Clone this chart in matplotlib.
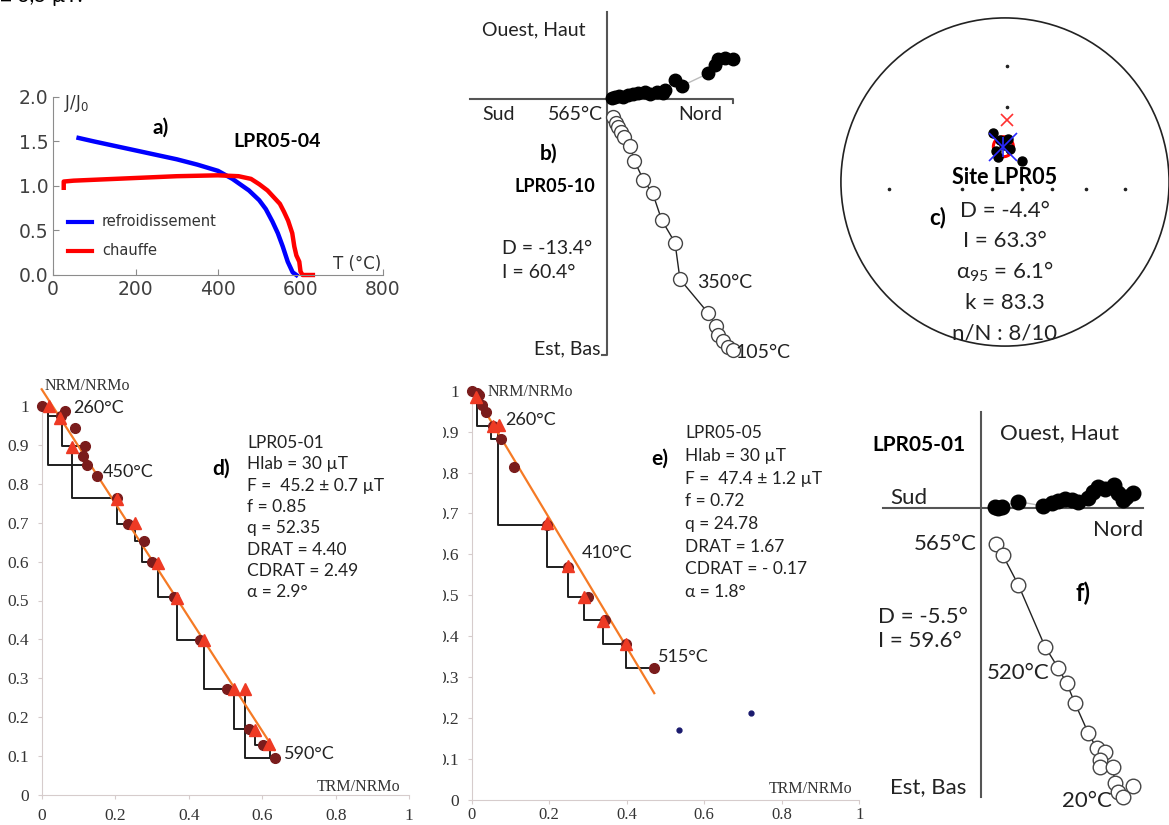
import matplotlib
matplotlib.use("Agg")
import matplotlib.pyplot as plt
from matplotlib.patches import Circle, Rectangle

plt.rcParams['font.family'] = ['Lato', 'DejaVu Sans']
plt.rcParams['mathtext.fontset'] = 'custom'
plt.rcParams['mathtext.rm'] = 'Lato'
plt.rcParams['mathtext.default'] = 'regular'

W, H = 1169, 825

# ---- a) thermomagnetic curve LPR05-04 (T in degC, J/J0)
cool_T = [62, 100, 150, 200, 250, 300, 350, 400, 435, 475, 500, 516, 532, 545, 557, 569, 581, 590]
cool_J = [1.54, 1.50, 1.45, 1.40, 1.35, 1.30, 1.24, 1.17, 1.08, 0.95, 0.84, 0.74, 0.60, 0.47, 0.32, 0.15, 0.03, 0.0]
heat_T = [26, 26, 50, 100, 200, 300, 400, 450, 480, 500, 520, 535, 550, 560, 570, 580, 585, 590, 597, 600, 605, 630]
heat_J = [0.98, 1.05, 1.06, 1.07, 1.09, 1.11, 1.12, 1.11, 1.08, 1.02, 0.95, 0.875, 0.80, 0.71, 0.61, 0.47, 0.32, 0.22, 0.15, 0.04, 0.0, 0.0]

# ---- b) Zijderveld LPR05-10 (units: px of the original, origin at axes cross)
b_hor_x = [5, 8.3, 12.7, 16.7, 21.7, 26.7, 31.7, 38.3, 43.3, 50, 56, 58.3, 68.3, 75, 101.7, 108.3, 111.7, 118.3, 126]
b_hor_y = [0.7, 2.3, 3.3, 1.7, 4, 4.7, 5.7, 6.7, 5, 7.3, 6.3, 9, 19, 13, 25.7, 34, 39.7, 40.7, 39.7]
b_ver_x = [6.7, 9.3, 11.3, 14, 17.3, 23.3, 27.7, 36.7, 46, 55, 68.3, 73.3, 101.7, 109.3, 111.7, 116.7, 121.7, 126.7]
b_ver_y = [-17.7, -23.7, -28.3, -32.7, -37.7, -46.7, -61.7, -81, -94.3, -121, -143.7, -180.3, -214.3, -227, -236, -241.7, -247.7, -251]

# ---- c) site mean stereonet (unit circle)
c_dir_x = [-0.073, -0.030, 0.018, -0.006, -0.055, 0.030, -0.043, 0.104]
c_dir_y = [0.299, 0.256, 0.262, 0.226, 0.189, 0.201, 0.152, 0.128]
c_mean = (-0.010, 0.215)
c_a95 = 0.061
c_ref = (0.014, 0.378)
c_tick_x = [-0.707, -0.262, -0.079, 0.104, 0.287, 0.494, 0.732]
c_tick_y = [0.707, 0.457]
c_row_y = -0.043
c_lines = ["D = -4.4°", "I = 63.3°", "α$_{95}$ = 6.1°", "k = 83.3", "n/N : 8/10"]

# ---- d) Arai plot LPR05-01
d_nrm_x = [0, 0.052, 0.063, 0.091, 0.118, 0.113, 0.122, 0.150, 0.204, 0.234, 0.278, 0.301, 0.361, 0.431, 0.503, 0.565, 0.601, 0.635]
d_nrm_y = [1.0, 0.975, 0.988, 0.944, 0.897, 0.871, 0.848, 0.821, 0.763, 0.697, 0.654, 0.600, 0.508, 0.398, 0.272, 0.170, 0.129, 0.094]
d_chk_x = [0.021, 0.050, 0.083, 0.204, 0.254, 0.317, 0.367, 0.441, 0.523, 0.553, 0.580, 0.619]
d_chk_y = [1.0, 0.970, 0.894, 0.760, 0.698, 0.597, 0.507, 0.398, 0.272, 0.272, 0.167, 0.131]
d_paths = [(0.018, 1.0, 0.052, 0.975), (0.018, 1.0, 0.122, 0.848), (0.054, 0.975, 0.118, 0.897),
           (0.083, 0.894, 0.204, 0.763), (0.204, 0.760, 0.234, 0.697), (0.254, 0.698, 0.278, 0.654),
           (0.272, 0.654, 0.301, 0.600), (0.317, 0.597, 0.361, 0.508), (0.367, 0.507, 0.431, 0.398),
           (0.441, 0.398, 0.503, 0.272), (0.524, 0.272, 0.565, 0.170), (0.553, 0.272, 0.635, 0.094),
           (0.580, 0.167, 0.601, 0.129), (0.621, 0.131, 0.635, 0.094)]
d_fit_x = [0, 0.633]
d_fit_y = [1.043, 0.116]
d_lines = ["LPR05-01", "Hlab = 30 µT", "F =  45.2 ± 0.7 µT", "f = 0.85", "q = 52.35",
           "DRAT = 4.40", "CDRAT = 2.49", "α = 2.9°"]

# ---- e) Arai plot LPR05-05
e_nrm_x = [0, 0.013, 0.020, 0.027, 0.036, 0.054, 0.076, 0.110, 0.195, 0.248, 0.299, 0.344, 0.397, 0.471]
e_nrm_y = [1.0, 0.995, 0.989, 0.964, 0.947, 0.914, 0.881, 0.813, 0.673, 0.570, 0.497, 0.440, 0.381, 0.322]
e_chk_x = [0.011, 0.054, 0.071, 0.195, 0.248, 0.290, 0.340, 0.397]
e_chk_y = [0.985, 0.914, 0.916, 0.676, 0.572, 0.497, 0.438, 0.381]
e_paths = [(0.014, 0.985, 0.054, 0.914), (0.051, 0.914, 0.076, 0.881), (0.068, 0.916, 0.195, 0.673),
           (0.195, 0.676, 0.248, 0.570), (0.248, 0.572, 0.296, 0.497), (0.290, 0.497, 0.344, 0.440),
           (0.340, 0.438, 0.397, 0.381), (0.397, 0.381, 0.471, 0.322)]
e_out_x = [0.535, 0.720]
e_out_y = [0.171, 0.213]
e_fit_x = [0, 0.471]
e_fit_y = [1.004, 0.261]
e_lines = ["LPR05-05", "Hlab = 30 µT", "F =  47.4 ± 1.2 µT", "f = 0.72", "q = 24.78",
           "DRAT = 1.67", "CDRAT = - 0.17", "α = 1.8°"]

# ---- f) Zijderveld LPR05-01
f_hor_x = [14.3, 17.7, 21, 37.7, 62.7, 71, 77.7, 84.3, 91, 97.7, 107.7, 112, 117.7, 124.3, 133.3, 137.7, 142.7, 145.3, 152.7]
f_hor_y = [1, 0, 1.7, 6.7, 2.3, 5, 7.3, 9, 8.3, 6.7, 10, 16.7, 21, 19, 23.3, 15.7, 8.3, 11.7, 15]
f_ver_x = [15.3, 22, 37.7, 64.3, 77.7, 86, 94.3, 107.7, 116, 124.3, 119.3, 119.3, 132, 134.3, 137.7, 142.7, 152]
f_ver_y = [-35.7, -46.7, -76.7, -138.3, -160, -175, -195, -225, -240, -243.3, -251.7, -258.3, -258.3, -275, -283.3, -288.3, -277.7]


def box(x0, y0, x1, y1):
    return [x0 / W, 1 - y1 / H, (x1 - x0) / W, (y1 - y0) / H]


fig = plt.figure(figsize=(11.69, 8.25), dpi=100)

fig.text(0 / W, 1 - 2 / H, "± 3,5 µT.", fontsize=15, va='baseline', ha='left')

# ---------------- a)
ax = fig.add_axes(box(53, 97, 383, 275))
ax.plot(cool_T, cool_J, color='#0000ff', lw=3.2, clip_on=False)
ax.plot(heat_T, heat_J, color='#ff0000', lw=3.2, clip_on=False)
ax.set_xlim(0, 800)
ax.set_ylim(0, 2)
ax.set_xticks([0, 200, 400, 600, 800])
ax.set_yticks([0, 0.5, 1.0, 1.5, 2.0])
ax.set_yticklabels(["0.0", "0.5", "1.0", "1.5", "2.0"])
for s in ['top', 'right']:
    ax.spines[s].set_visible(False)
for s in ['left', 'bottom']:
    ax.spines[s].set_color('#8c8c8c')
ax.tick_params(colors='#8c8c8c', labelcolor='#404040', length=4, direction='in')
for lab in ax.get_xticklabels() + ax.get_yticklabels():
    lab.set_family('DejaVu Sans')
    lab.set_fontsize(13.5)
ax.text(27, 1.93, "J/J$_0$", fontsize=12, family='DejaVu Sans', color='#333333', va='center')
ax.text(262, 1.65, "a)", fontsize=15, fontweight='bold', ha='center', va='center')
ax.text(543, 1.505, "LPR05-04", fontsize=14, fontweight='bold', ha='center', va='center')
ax.plot([36, 95], [0.596, 0.596], color='#0000ff', lw=3)
ax.plot([36, 95], [0.27, 0.27], color='#ff0000', lw=3)
ax.text(119, 0.596, "refroidissement", fontsize=10.5, family='DejaVu Sans', color='#333333', va='center')
ax.text(119, 0.27, "chauffe", fontsize=10.5, family='DejaVu Sans', color='#333333', va='center')
ax.text(679, 0.124, "T (°C)", fontsize=12, family='DejaVu Sans', color='#333333', va='center')

# ---------------- b)
ax = fig.add_axes(box(460, 0, 760, 370))
ax.set_xlim(-146.7, 153.3)
ax.set_ylim(-271, 99)
ax.axis('off')
ax.plot([-136.7, 126.7, 126.7], [0, 0, -4], color='#555555', lw=1.5)
ax.plot([0, 0, -5], [87.3, -256, -256], color='#555555', lw=1.5)
ax.plot(b_hor_x, b_hor_y, color='#bbbbbb', lw=1)
ax.plot(b_hor_x, b_hor_y, 'o', color='black', ms=9, lw=0)
ax.plot(b_ver_x, b_ver_y, color='#222222', lw=1)
ax.plot(b_ver_x, b_ver_y, 'o', mfc='white', mec='#444444', mew=1, ms=10)
fs = 14
ax.text(-124.7, 69, "Ouest, Haut", fontsize=fs, va='center', color='#222222')
ax.text(-124.7, -16, "Sud", fontsize=fs, va='center', color='#222222')
ax.text(-3.7, -16, "565°C", fontsize=fs, va='center', ha='right', color='#222222')
ax.text(71.3, -16, "Nord", fontsize=fs, va='center', color='#222222')
ax.text(-57.7, -55, "b)", fontsize=15, fontweight='bold', ha='center', va='center')
ax.text(-51.7, -87, "LPR05-10", fontsize=13, fontweight='bold', ha='center', va='center')
ax.text(-104.7, -149, "D = -13.4°", fontsize=fs, va='center', color='#222222')
ax.text(-104.7, -173, "I = 60.4°", fontsize=fs, va='center', color='#222222')
ax.text(90.3, -183, "350°C", fontsize=fs, va='center', color='#222222')
ax.text(128.3, -253, "105°C", fontsize=fs, va='center', color='#222222', clip_on=False)
ax.text(-6.7, -250, "Est, Bas", fontsize=fs, va='center', ha='right', color='#222222')

# ---------------- c)
ax = fig.add_axes(box(836, 13, 1174, 351))
ax.set_xlim(-1.03, 1.03)
ax.set_ylim(-1.03, 1.03)
ax.set_aspect('equal')
ax.axis('off')
ax.add_patch(Circle((0, 0), 1, fill=False, ec='#222222', lw=1.2, clip_on=False))
ax.plot(c_tick_x, [c_row_y] * len(c_tick_x), 'o', color='#222222', ms=1.6)
ax.plot([0.01] * len(c_tick_y), c_tick_y, 'o', color='#222222', ms=1.6)
ax.plot(c_dir_x, c_dir_y, 'o', color='black', ms=6.5)
ax.add_patch(Circle(c_mean, c_a95, fill=False, ec='#ff0000', lw=2.2))
ax.plot(*c_mean, marker='x', color='#2a2aff', ms=20, mew=1.2)
ax.plot(*c_mean, marker='|', color='#2a2aff', ms=14, mew=1.2)
ax.plot(*c_ref, marker='x', color='#ff3030', ms=8, mew=1.2)
ax.text(0.0, 0.025, "Site LPR05", fontsize=15.5, fontweight='bold', ha='center', va='center')
ax.text(-0.41, -0.215, "c)", fontsize=16, fontweight='bold', ha='center', va='center')
c_y0 = -0.175
for i, t in enumerate(c_lines):
    ax.text(0.0, c_y0 - i * 0.187, t, fontsize=16, ha='center', va='center', color='#222222')


# ---------------- d) and e)
def arai(ax, nx, ny, cx, cy, paths, fx, fy, pad=6):
    ax.set_xlim(0, 1)
    ax.set_ylim(0, 1)
    for s in ['top', 'right']:
        ax.spines[s].set_visible(False)
    for s in ['left', 'bottom']:
        ax.spines[s].set_color('#d6cccc')
    ax.set_xticks([0, 0.2, 0.4, 0.6, 0.8, 1])
    ax.set_xticklabels(["0", "0.2", "0.4", "0.6", "0.8", "1"])
    ax.set_yticks([0, 0.1, 0.2, 0.3, 0.4, 0.5, 0.6, 0.7, 0.8, 0.9, 1])
    ax.set_yticklabels(["0", "0.1", "0.2", "0.3", "0.4", "0.5", "0.6", "0.7", "0.8", "0.9", "1"])
    ax.tick_params(colors='#d6cccc', labelcolor='#333333', length=3, pad=6)
    ax.tick_params(axis='x', pad=pad)
    for lab in ax.get_xticklabels() + ax.get_yticklabels():
        lab.set_family('Liberation Serif')
        lab.set_fontsize(12.5)
    for x0, y0, x1, y1 in paths:
        ax.plot([x0, x0, x1], [y0, y1, y1], color='#1e1e1e', lw=1.4, zorder=2)
    ax.plot(fx, fy, color='#f57a25', lw=1.6, zorder=3, clip_on=False)
    ax.plot(nx, ny, 'o', color='#7a1c1c', ms=7, zorder=4, clip_on=False)
    ax.plot(cx, cy, '^', color='#ee3a24', ms=9, zorder=5, clip_on=False)


ax = fig.add_axes(box(41.7, 406, 409.3, 795))
arai(ax, d_nrm_x, d_nrm_y, d_chk_x, d_chk_y, d_paths, d_fit_x, d_fit_y)
ser = dict(family='Liberation Serif', fontsize=11.5, color='#333333')
ax.text(0.009, 1.051, "NRM/NRMo", va='center', ha='left', **ser)
ax.text(0.975, 0.021, "TRM/NRMo", va='center', ha='right', **ser)
ax.text(0.085, 0.995, "260°C", fontsize=13, va='center', color='#222222')
ax.text(0.167, 0.830, "450°C", fontsize=13, va='center', color='#222222')
ax.text(0.659, 0.105, "590°C", fontsize=13, va='center', color='#222222')
ax.text(0.488, 0.838, "d)", fontsize=15, fontweight='bold', ha='center', va='center')
for i, t in enumerate(d_lines):
    ax.text(0.559, 0.905 - i * 0.0548, t, fontsize=12.5, va='center', color='#222222')

ax = fig.add_axes(box(471.7, 390.7, 859.3, 800))
arai(ax, e_nrm_x, e_nrm_y, e_chk_x, e_chk_y, e_paths, e_fit_x, e_fit_y, pad=2)
for lab in ax.get_xticklabels():
    lab.set_fontsize(12)
ax.plot(e_out_x, e_out_y, 'o', color='#1a1a6e', ms=3.5)
ax.text(0.042, 0.997, "NRM/NRMo", va='center', ha='left', **ser)
ax.text(0.981, 0.027, "TRM/NRMo", va='center', ha='right', **ser)
ax.text(0.086, 0.928, "260°C", fontsize=13, va='center', color='#222222')
ax.text(0.285, 0.603, "410°C", fontsize=13, va='center', color='#222222')
ax.text(0.480, 0.349, "515°C", fontsize=13, va='center', color='#222222')
ax.text(0.484, 0.835, "e)", fontsize=15, fontweight='bold', ha='center', va='center')
for i, t in enumerate(e_lines):
    ax.text(0.550, 0.896 - i * 0.0554, t, fontsize=12.5, va='center', color='#222222')

# hide the left part of panel e tick labels, as in the source
fig.patches.append(Rectangle((415 / W, 0), 28 / W, 1 - 380 / H, transform=fig.transFigure,
                             facecolor='white', edgecolor='none', zorder=10))

# ---------------- f)
ax = fig.add_axes(box(870, 400, 1169, 825))
ax.set_xlim(-110.7, 188.3)
ax.set_ylim(-316.7, 108.3)
ax.axis('off')
ax.plot([-97.7, 162.3], [0, 0], color='#555555', lw=1.5)
ax.plot([0, 0], [96.3, -288.7], color='#555555', lw=1.5)
ax.plot(f_hor_x, f_hor_y, color='#bbbbbb', lw=1)
ax.plot(f_hor_x, f_hor_y, 'o', color='black', ms=10.5)
ax.plot(f_ver_x, f_ver_y, color='#222222', lw=1)
ax.plot(f_ver_x, f_ver_y, 'o', mfc='white', mec='#444444', mew=1, ms=10.5)
fs = 16
ax.text(-108.7, 63.3, "LPR05-01", fontsize=15, fontweight='bold', va='center')
ax.text(19.3, 75.3, "Ouest, Haut", fontsize=fs, va='center', color='#222222')
ax.text(-90.7, 10.3, "Sud", fontsize=fs, va='center', color='#222222')
ax.text(112.3, -21.7, "Nord", fontsize=fs, va='center', color='#222222')
ax.text(-3.7, -35.7, "565°C", fontsize=fs, va='center', ha='right', color='#222222')
ax.text(102.3, -84.7, "f)", fontsize=17, fontweight='bold', ha='center', va='center')
ax.text(-102.7, -108.7, "D = -5.5°", fontsize=fs, va='center', color='#222222')
ax.text(-102.7, -132.7, "I = 59.6°", fontsize=fs, va='center', color='#222222')
ax.text(6.3, -164.7, "520°C", fontsize=fs, va='center', color='#222222')
ax.text(-90.7, -278.7, "Est, Bas", fontsize=fs, va='center', color='#222222')
ax.text(81.3, -292.7, "20°C", fontsize=fs, va='center', color='#222222')

fig.savefig("out.png", dpi=100)
